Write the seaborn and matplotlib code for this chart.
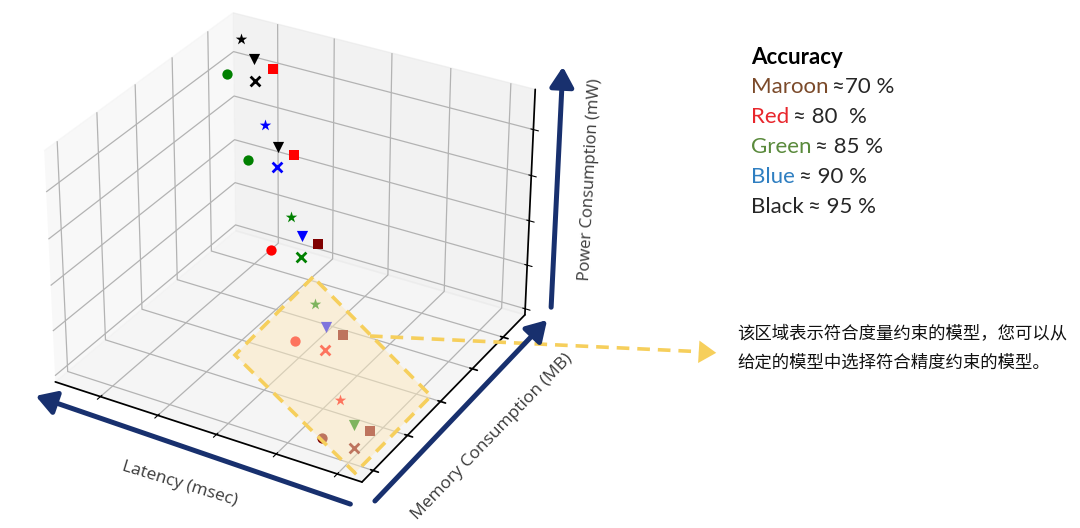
import matplotlib
matplotlib.use('Agg')
import matplotlib.pyplot as plt
import seaborn as sns
import pandas as pd
from matplotlib.patches import Polygon, FancyArrowPatch
from matplotlib.lines import Line2D

# ------------------------------------------------------------
# data: one row per (model, configuration)
# ------------------------------------------------------------
latency = [17.0, 21.2, 24.9, 19.7, 24.3,
           25.6, 30.0, 33.2, 28.1, 32.7,
           34.8, 39.0, 42.1, 37.0, 41.8,
           44.0, 48.5, 51.7, 46.4, 51.3,
           53.9, 58.9, 61.6, 56.5, 61.7]
memory = [516, 483, 477, 431, 436,
          443, 407, 401, 354, 358,
          364, 326, 318, 270, 274,
          277, 233, 228, 180, 181,
          180, 134, 133, 84, 84]
power = [576, 564, 557, 557, 555,
         459, 448, 445, 445, 443,
         338, 336, 336, 336, 336,
         238, 236, 236, 236, 236,
         136, 138, 136, 138, 138]
accuracy = ['Black', 'Black', 'Red', 'Green', 'Black',
            'Blue', 'Black', 'Red', 'Green', 'Blue',
            'Green', 'Blue', 'Maroon', 'Red', 'Green',
            'Green', 'Blue', 'Maroon', 'Red', 'Red',
            'Red', 'Green', 'Maroon', 'Maroon', 'Maroon']
model = ['star', 'tri', 'square', 'circle', 'cross'] * 5

legend_names = ['Maroon', 'Red', 'Green', 'Blue', 'Black']
legend_values = ['\u224870 %', '\u2248 80  %', '\u2248 85 %', '\u2248 90 %', '\u2248 95 %']

df = pd.DataFrame({'latency': latency, 'memory': memory, 'power': power,
                   'accuracy': accuracy, 'model': model})

point_colors = {'Maroon': '#800000', 'Red': '#ff0000', 'Green': '#008000',
                'Blue': '#0000ff', 'Black': '#000000'}
text_colors = {'Maroon': '#7b4a2a', 'Red': '#e8262c', 'Green': '#5a8a3c',
               'Blue': '#2f7fc1', 'Black': '#262626'}
markers = {'star': '*', 'tri': 'v', 'square': 's', 'circle': 'o', 'cross': 'x'}
sizes = {'star': 75, 'tri': 65, 'square': 52, 'circle': 55, 'cross': 50}

# ------------------------------------------------------------
# style
# ------------------------------------------------------------
sns.set_theme(style='white', rc={'grid.color': '#b3b3b3', 'grid.linewidth': 0.9,
                                 'axes.edgecolor': 'black', 'xtick.color': 'black',
                                 'xtick.bottom': True, 'ytick.left': True,
                                 'xtick.major.width': 0.8})
plt.rcParams['font.family'] = ['Open Sans', 'Noto Sans CJK SC', 'DejaVu Sans']

W, H = 1080, 528
fig = plt.figure(figsize=(W / 100, H / 100), dpi=100)

def px(x, y):
    return (x / W, 1 - y / H)

# ------------------------------------------------------------
# 3D scatter
# ------------------------------------------------------------
ax = fig.add_axes([0.013, 0.0218, 0.5056, 1.034], projection='3d')
for (acc, mdl), sub in df.groupby(['accuracy', 'model']):
    ax.scatter(sub['latency'], sub['memory'], sub['power'],
               c=point_colors[acc], marker=markers[mdl], s=sizes[mdl],
               linewidths=2.0 if mdl == 'cross' else 0, depthshade=False)

ax.set_xlim(12, 64)
ax.set_ylim(68, 573)
ax.set_zlim(86, 586)
ax.set_xticks([20, 30, 40, 50, 60])
ax.set_yticks([100, 200, 300, 400, 500])
ax.set_zticks([100, 200, 300, 400, 500])
ax.set_xticklabels([])
ax.set_yticklabels([])
ax.set_zticklabels([])

# ------------------------------------------------------------
# overlays (positions in pixels of the 1080x528 canvas)
# ------------------------------------------------------------
navy = '#18306e'
gold = '#f6cf5c'
dash = (0, (3.5, 2.2))

region = [(313, 277), (235, 355), (355, 473), (431, 396)]
fig.add_artist(Polygon([px(*p) for p in region], closed=True, transform=fig.transFigure,
                       facecolor='#fde9bd', edgecolor='none', alpha=0.5, zorder=5))
fig.add_artist(Polygon([px(*p) for p in region], closed=True, transform=fig.transFigure,
                       facecolor='none', edgecolor=gold, lw=2.6, linestyle=dash, zorder=6))

# dashed pointer to the note
pointer = [(370, 336), (706, 352)]
fig.add_artist(Line2D([px(*p)[0] for p in pointer], [px(*p)[1] for p in pointer],
                      transform=fig.transFigure, color=gold, lw=2.6,
                      linestyle=dash, zorder=6))
fig.add_artist(FancyArrowPatch(px(702, 352), px(719, 353), transform=fig.transFigure,
                               arrowstyle='-|>,head_length=0.7,head_width=0.45',
                               mutation_scale=18, color=gold, lw=0, zorder=6))

# axis arrows
arrows = [((353, 505), (33, 395)), ((373, 503), (549, 318)), ((551, 310), (563, 64))]
for a, b in arrows:
    fig.add_artist(FancyArrowPatch(px(*a), px(*b), transform=fig.transFigure,
                                   arrowstyle='-|>,head_length=0.75,head_width=0.45',
                                   mutation_scale=16, color=navy, lw=3.6, zorder=6))

label_kw = dict(color='#3a3a3a', ha='center', va='center', rotation_mode='anchor')
fig.text(*px(180, 484), 'Latency (msec)', rotation=-17, fontsize=12.5, **label_kw)
fig.text(*px(492, 437), 'Memory Consumption (MB)', rotation=46, fontsize=12.5, **label_kw)
fig.text(*px(590, 180), 'Power Consumption (mW)', rotation=87, fontsize=12, **label_kw)

# accuracy key
key_font = ['Lato', 'DejaVu Sans']
fig.text(*px(751, 57), 'Accuracy', fontsize=16, fontweight='bold', color='black',
         va='center', family=key_font)
for i, (name, val) in enumerate(zip(legend_names, legend_values)):
    y = 87 + 30 * i
    t = fig.text(*px(751, y), name, fontsize=16, color=text_colors[name],
                 va='center', family=key_font)
    fig.canvas.draw()
    bb = t.get_window_extent()
    fig.text(bb.x1 / W + 4 / W, 1 - y / H, val, fontsize=16, color='#262626',
             va='center', family=key_font)

note = '该区域表示符合度量约束的模型，您可以从\n给定的模型中选择符合精度约束的模型。'
fig.text(*px(737, 348), note, fontsize=12.5, color='#111111', va='center',
         linespacing=1.75, family=['Noto Sans CJK SC', 'DejaVu Sans'])

fig.savefig('out.png', dpi=100)
